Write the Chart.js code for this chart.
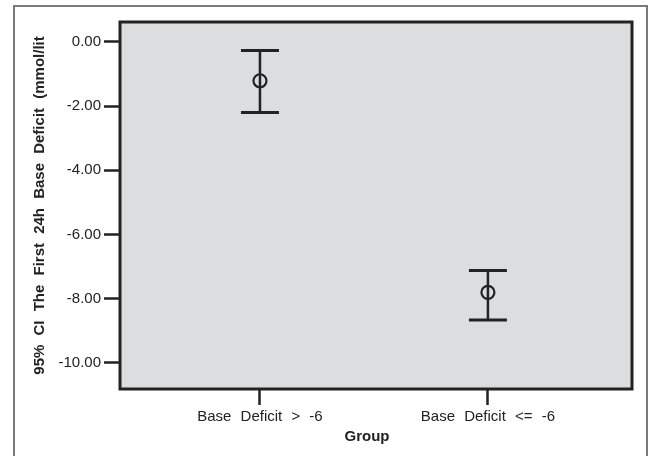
<!DOCTYPE html>
<html>
<head>
<meta charset="utf-8">
<script src="https://cdn.jsdelivr.net/npm/chart.js@4/dist/chart.umd.min.js"></script>
<style>
  html, body { margin: 0; padding: 0; background: #ffffff; }
  #wrap { position: relative; width: 649px; height: 456px; overflow: hidden; }
  #frame { position: absolute; left: 13px; top: 5px; width: 635px; height: 470px; border: 2px solid #7a7a7a; box-sizing: border-box; }
  #c { position: absolute; left: 0; top: 0; }
</style>
</head>
<body>
<div id="wrap">
  <div id="frame"></div>
  <canvas id="c" width="649" height="456"></canvas>
</div>
<script>
// ---- data ----
const groups = ['Base Deficit > -6', 'Base Deficit <= -6'];
const groupPos = [1, 2];
const means = [-1.21, -7.80];
const upper = [-0.27, -7.12];
const lower = [-2.20, -8.66];
const yTicks = [0, -2, -4, -6, -8, -10];
const yTitle = '95% CI The First 24h Base Deficit (mmol/lit';
const xTitle = 'Group';

const INK = '#222222';
const FONT = "'Liberation Sans', Arial, sans-serif";
const X_TITLE_SHIFT = -9;

const errorSets = groups.map((g, i) => ({
  type: 'line',
  label: g + ' CI',
  data: [{ x: groupPos[i], y: upper[i] }, { x: groupPos[i], y: lower[i] }],
  borderColor: INK,
  borderWidth: 2.5,
  pointStyle: 'line',
  pointRadius: 19,
  pointHoverRadius: 19,
  pointBorderWidth: 3,
  pointBorderColor: INK,
  fill: false,
  tension: 0,
  order: 2
}));

const meanSet = {
  type: 'scatter',
  label: 'Mean',
  data: groups.map((g, i) => ({ x: groupPos[i], y: means[i] })),
  pointStyle: 'circle',
  pointRadius: 6.5,
  pointHoverRadius: 6.5,
  pointBorderWidth: 2.2,
  pointBackgroundColor: 'rgba(0,0,0,0)',
  pointBorderColor: INK,
  order: 1
};

const plotFrame = {
  id: 'plotFrame',
  afterLayout(chart) {
    const s = chart.scales.x;
    if (s && !s._titleShifted) {
      const orig = s.drawTitle;
      s.drawTitle = function () {
        const l = this.left, r = this.right;
        this.left += X_TITLE_SHIFT; this.right += X_TITLE_SHIFT;
        orig.call(this);
        this.left = l; this.right = r;
      };
      s._titleShifted = true;
    }
  },
  beforeDraw(chart) {
    const ctx = chart.ctx;
    try { ctx.wordSpacing = '5px'; } catch (e) {}
    const a = chart.chartArea;
    ctx.save();
    ctx.fillStyle = '#dcdddf';
    ctx.fillRect(a.left, a.top, a.right - a.left, a.bottom - a.top);
    ctx.restore();
  },
  afterDatasetsDraw(chart) {
    const ctx = chart.ctx;
    const a = chart.chartArea;
    ctx.save();
    ctx.strokeStyle = INK;
    ctx.lineWidth = 3;
    ctx.strokeRect(a.left, a.top, a.right - a.left, a.bottom - a.top);
    ctx.restore();
  }
};

new Chart(document.getElementById('c'), {
  data: { datasets: [...errorSets, meanSet] },
  plugins: [plotFrame],
  options: {
    responsive: false,
    animation: false,
    devicePixelRatio: 1,
    layout: { autoPadding: false, padding: { top: 22, right: 17, left: 0, bottom: 0 } },
    plugins: { legend: { display: false }, tooltip: { enabled: false } },
    scales: {
      x: {
        type: 'linear',
        min: 0.386,
        max: 2.632,
        afterBuildTicks(scale) { scale.ticks = groupPos.map(v => ({ value: v })); },
        afterFit(scale) { scale.height = 67; scale.paddingLeft = 0; scale.paddingRight = 0; },
        border: { display: false },
        grid: { drawOnChartArea: false, drawTicks: true, tickLength: 16, tickWidth: 2.5, tickColor: INK },
        ticks: {
          padding: 3,
          color: INK,
          font: { family: FONT, size: 15 },
          callback(v) { const i = groupPos.indexOf(v); return i >= 0 ? groups[i] : ''; }
        },
        title: {
          display: true,
          text: xTitle,
          color: INK,
          font: { family: FONT, size: 15, weight: 'bold' },
          padding: { top: 0, bottom: 10 }
        }
      },
      y: {
        type: 'linear',
        min: -10.81,
        max: 0.62,
        afterBuildTicks(scale) { scale.ticks = yTicks.map(v => ({ value: v })); },
        afterFit(scale) { scale.width = 120; scale.paddingTop = 0; scale.paddingBottom = 0; },
        border: { display: false },
        grid: { drawOnChartArea: false, drawTicks: true, tickLength: 16, tickWidth: 2.5, tickColor: INK },
        ticks: {
          padding: 3,
          color: INK,
          font: { family: FONT, size: 15 },
          callback(v) { return Number(v).toFixed(2); }
        },
        title: {
          display: true,
          text: yTitle,
          color: INK,
          font: { family: FONT, size: 15, weight: 'bold' },
          padding: { top: 31, bottom: 0 }
        }
      }
    }
  }
});
</script>
</body>
</html>
